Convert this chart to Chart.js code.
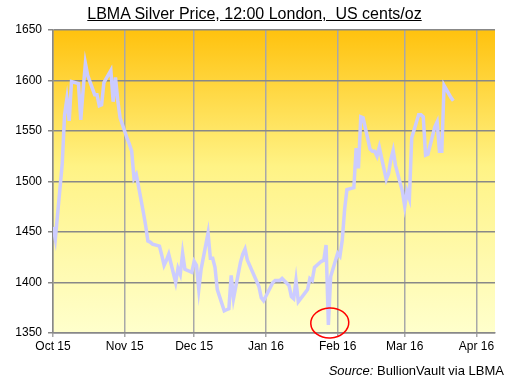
<!DOCTYPE html>
<html>
<head>
<meta charset="utf-8">
<script src="https://cdn.jsdelivr.net/npm/chart.js@4.4.1/dist/chart.umd.min.js"></script>
<style>
    body { margin: 0; background: #fff; }
    .wrap { position: relative; width: 515px; height: 387px; font-family: "Liberation Sans", Arial, sans-serif; }
    .title { position: absolute; left: 0; top: 5px; width: 509px; text-align: center; font-size: 16px; text-decoration: underline; white-space: pre; color: #000; }
    .source { position: absolute; right: 11px; top: 363px; font-size: 13px; color: #000; white-space: pre; }
    canvas { position: absolute; left: 0; top: 0; }
</style>
</head>
<body>
<div class="wrap">
    <canvas id="chart" width="515" height="387"></canvas>
    <div class="title">LBMA Silver Price, 12:00 London,  US cents/oz</div>
    <div class="source"><i>Source:</i> BullionVault via LBMA</div>
</div>
<script>
// Даты фиксинга (торговые дни) и цены, центы США за унцию
let dates = [
    '2015-10-01','2015-10-02','2015-10-05','2015-10-06','2015-10-07','2015-10-08','2015-10-09',
    '2015-10-12','2015-10-13','2015-10-14','2015-10-15','2015-10-16','2015-10-19','2015-10-20',
    '2015-10-21','2015-10-22','2015-10-23','2015-10-26','2015-10-27','2015-10-28','2015-10-29','2015-10-30',
    '2015-11-02','2015-11-03','2015-11-04','2015-11-05','2015-11-06','2015-11-09','2015-11-10',
    '2015-11-11','2015-11-12','2015-11-13','2015-11-16','2015-11-17','2015-11-18','2015-11-19',
    '2015-11-20','2015-11-23','2015-11-24','2015-11-25','2015-11-26','2015-11-27','2015-11-30',
    '2015-12-01','2015-12-02','2015-12-03','2015-12-04','2015-12-07','2015-12-08','2015-12-09',
    '2015-12-10','2015-12-11','2015-12-14','2015-12-15','2015-12-16','2015-12-17','2015-12-18',
    '2015-12-21','2015-12-22','2015-12-23','2015-12-24','2015-12-29','2015-12-30','2015-12-31',
    '2016-01-04','2016-01-05','2016-01-06','2016-01-07','2016-01-08','2016-01-11','2016-01-12',
    '2016-01-13','2016-01-14','2016-01-15','2016-01-18','2016-01-19','2016-01-20','2016-01-21',
    '2016-01-22','2016-01-25','2016-01-26','2016-01-27','2016-01-28','2016-01-29',
    '2016-02-01','2016-02-02','2016-02-03','2016-02-04','2016-02-05','2016-02-08','2016-02-09',
    '2016-02-10','2016-02-11','2016-02-12','2016-02-15','2016-02-16','2016-02-17','2016-02-18',
    '2016-02-19','2016-02-22','2016-02-23','2016-02-24','2016-02-25','2016-02-26','2016-02-29',
    '2016-03-01','2016-03-02','2016-03-03','2016-03-04','2016-03-07','2016-03-08','2016-03-09',
    '2016-03-10','2016-03-11','2016-03-14','2016-03-15','2016-03-16','2016-03-17','2016-03-18',
    '2016-03-21','2016-03-22'
];

let prices = [
    1455,1443,1518,1566,1582,1560,1599,
    1597,1561,1590,1617,1605,1586,1586,
    1575,1576,1598,1610,1579,1603,1580,1563,
    1543,1537,1530,1503,1507,1470,1457,
    1441,1440,1438,1436,1427,1417,1422,
    1428,1400,1414,1408,1429,1413,1410,
    1421,1417,1393,1413,1449,1424,1424,
    1415,1393,1372,1373,1374,1407,1384,
    1420,1428,1433,1422,1396,1385,1382,
    1400,1402,1402,1402,1404,1397,1386,
    1384,1402,1381,1390,1393,1404,1402,
    1415,1421,1422,1437,1358,1406,
    1429,1426,1442,1472,1492,1494,1533,
    1513,1564,1563,1532,1530,1530,1525,
    1534,1502,1508,1522,1531,1516,1490,
    1475,1490,1483,1543,1566,1566,1564,
    1526,1527,1554,1559,1530,1530,1595,
    1583,1580
];

// Подписи оси X и даты, на которых они стоят
let monthTicks = ['2015-10-01','2015-11-01','2015-12-01','2016-01-01','2016-02-01','2016-03-01','2016-04-01'];
let monthLabels = ['Oct 15','Nov 15','Dec 15','Jan 16','Feb 16','Mar 16','Apr 16'];

let yTicks = [1350, 1400, 1450, 1500, 1550, 1600, 1650];

let startDate = '2015-10-01';
let endDate = '2016-04-09';

InitChartJs();

function DayIndex(s)
{
    let p = s.split('-');
    let q = startDate.split('-');
    return (Date.UTC(+p[0], p[1] - 1, +p[2]) - Date.UTC(+q[0], q[1] - 1, +q[2])) / 86400000;
}

function InitChartJs()
{
    let chart = document.getElementById('chart').getContext('2d');

    let points = dates.map(function (d, i) { return { x: DayIndex(d), y: prices[i] }; });
    let tickValues = monthTicks.map(DayIndex);

    // Фон области графика - градиент от оранжевого к бледно-жёлтому
    let background = {
        id: 'background',
        beforeDraw: function (c) {
            let a = c.chartArea;
            let ctx = c.ctx;
            let g = ctx.createLinearGradient(0, a.top, 0, a.bottom);
            g.addColorStop(0, '#ffc20e');
            g.addColorStop(0.45, '#fff385');
            g.addColorStop(1, '#ffffcc');
            ctx.save();
            ctx.fillStyle = g;
            ctx.fillRect(a.left, a.top, a.right - a.left, a.bottom - a.top);
            ctx.restore();
        }
    };

    // Красный овал вокруг минимума в конце января
    let circle = {
        id: 'circle',
        afterDatasetsDraw: function (c) {
            let ctx = c.ctx;
            let cx = c.scales.x.getPixelForValue(DayIndex('2016-01-28') + 0.6);
            let cy = c.scales.y.getPixelForValue(1360);
            ctx.save();
            ctx.strokeStyle = '#ff0000';
            ctx.lineWidth = 1.5;
            ctx.beginPath();
            ctx.ellipse(cx, cy, 19, 15, -0.05, 0, Math.PI * 2);
            ctx.stroke();
            ctx.restore();
        }
    };

    new Chart(chart, {
        type: 'line',
        data: {
            datasets: [
                {
                    label: 'Silver',
                    data: points,
                    borderColor: '#ccccff',
                    borderWidth: 3.5,
                    pointRadius: 0,
                    fill: false,
                    tension: 0
                }
            ]
        },
        options: {
            responsive: false,
            animation: false,
            devicePixelRatio: 1,
            layout: { padding: { top: 30, right: 20, left: 0, bottom: 0 } },
            plugins: {
                legend: { display: false },
                tooltip: { enabled: false }
            },
            scales: {
                x: {
                    type: 'linear',
                    min: 0,
                    max: DayIndex(endDate),
                    afterFit: function (s) { s.height = 54; },
                    afterBuildTicks: function (s) {
                        s.ticks = tickValues.map(function (v) { return { value: v }; });
                    },
                    ticks: {
                        autoSkip: false,
                        maxRotation: 0,
                        padding: 2,
                        color: '#000',
                        font: { family: '"Liberation Sans", Arial', size: 12 },
                        callback: function (v) {
                            let i = tickValues.indexOf(v);
                            return i >= 0 ? monthLabels[i] : '';
                        }
                    },
                    grid: {
                        color: '#a8a8a8',
                        lineWidth: 1.5,
                        tickLength: 4
                    },
                    border: { color: '#888888', width: 1.5 }
                },
                y: {
                    min: yTicks[0],
                    max: yTicks[yTicks.length - 1],
                    afterFit: function (s) { s.width = 53; },
                    afterBuildTicks: function (s) {
                        s.ticks = yTicks.map(function (v) { return { value: v }; });
                    },
                    ticks: {
                        padding: 6,
                        color: '#000',
                        font: { family: '"Liberation Sans", Arial', size: 12 },
                        callback: function (v) { return String(v); }
                    },
                    grid: {
                        color: '#888888',
                        lineWidth: 1.5,
                        tickLength: 5
                    },
                    border: { color: '#888888', width: 1.5 }
                }
            }
        },
        plugins: [background, circle]
    });
}
</script>
</body>
</html>
